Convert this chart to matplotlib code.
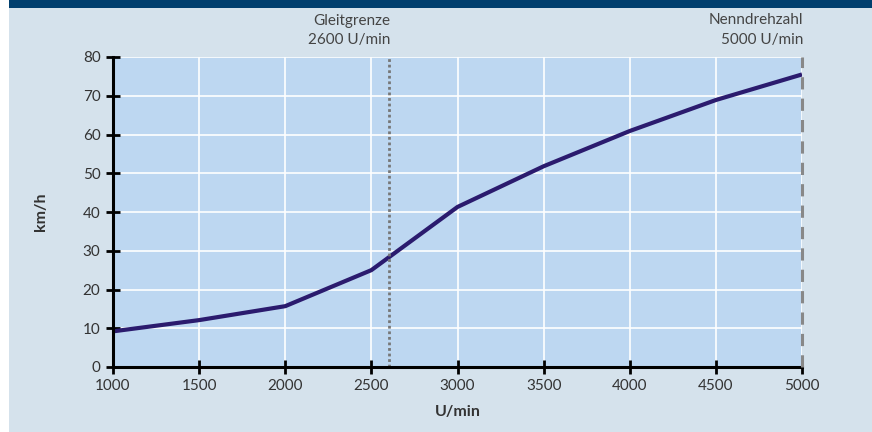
import matplotlib.pyplot as plt
import matplotlib.patches as mpatches

# Daten
drehzahl = [1000, 1500, 2000, 2500, 3000, 3500, 4000, 4500, 5000]
geschwindigkeit = [9.2, 12.1, 15.7, 25.0, 41.3, 51.8, 60.9, 68.9, 75.5]
x_ticks = [1000, 1500, 2000, 2500, 3000, 3500, 4000, 4500, 5000]
y_ticks = [0, 10, 20, 30, 40, 50, 60, 70, 80]
gleitgrenze = 2600
nenndrehzahl = 5000

plt.rcParams['font.family'] = ['Lato', 'DejaVu Sans']

BG = '#d5e2ec'
PLOT_BG = '#bdd7f1'
LINE = '#2b1b6e'
TEXT = '#333333'

fig = plt.figure(figsize=(8.72, 4.32), dpi=100)
fig.patch.set_facecolor('white')
# Hintergrund-Panel und oberer Balken
fig.add_artist(mpatches.Rectangle((9 / 872, 0), 1, 1, transform=fig.transFigure,
                                  facecolor=BG, edgecolor='none', zorder=-10))
fig.add_artist(mpatches.Rectangle((9 / 872, 1 - 8 / 432), 1, 8 / 432, transform=fig.transFigure,
                                  facecolor='#003f6e', edgecolor='none', zorder=-9))

ax = fig.add_axes([113 / 872, 65 / 432, 689 / 872, 310 / 432])
ax.set_facecolor(PLOT_BG)

ax.plot(drehzahl, geschwindigkeit, color=LINE, linewidth=3, zorder=3, solid_capstyle='butt')

# Hilfslinien
ax.axvline(gleitgrenze, color='#777777', linestyle=(0, (1, 1)), linewidth=2, zorder=4)
ax.axvline(nenndrehzahl, color='#888888', linestyle=(0, (4, 3)), linewidth=2.2, zorder=6,
           clip_on=False)

ax.set_xlim(1000, 5000)
ax.set_ylim(0, 80)
ax.set_xticks(x_ticks)
ax.set_yticks(y_ticks)
ax.grid(True, color='white', linewidth=1.2, zorder=1)
ax.set_axisbelow(True)

for s in ['top', 'right']:
    ax.spines[s].set_visible(False)
for s in ['left', 'bottom']:
    ax.spines[s].set_linewidth(2.2)
    ax.spines[s].set_color('black')
    ax.spines[s].set_zorder(5)

ax.tick_params(axis='both', direction='inout', length=10, width=2, color='black',
               labelsize=11, labelcolor=TEXT, pad=4)

ax.set_xlabel('U/min', fontsize=11.5, fontweight='bold', color=TEXT, labelpad=8)
ax.set_ylabel('km/h', fontsize=11.5, fontweight='bold', color=TEXT)
ax.yaxis.set_label_coords(-0.095, 0.5)

# Beschriftungen oben
ax.text(gleitgrenze + 8, 1.0, 'Gleitgrenze\n2600 U/min', transform=ax.get_xaxis_transform(),
        ha='right', va='bottom', fontsize=11, color='#444444', linespacing=1.5)
ax.text(nenndrehzahl + 8, 1.0, 'Nenndrehzahl\n5000 U/min', transform=ax.get_xaxis_transform(),
        ha='right', va='bottom', fontsize=11, color='#444444', linespacing=1.5)
for t in ax.texts:
    t.set_position((t.get_position()[0], 1.0 + 10 / 310))

fig.savefig('out.png', dpi=100, facecolor=fig.get_facecolor())
